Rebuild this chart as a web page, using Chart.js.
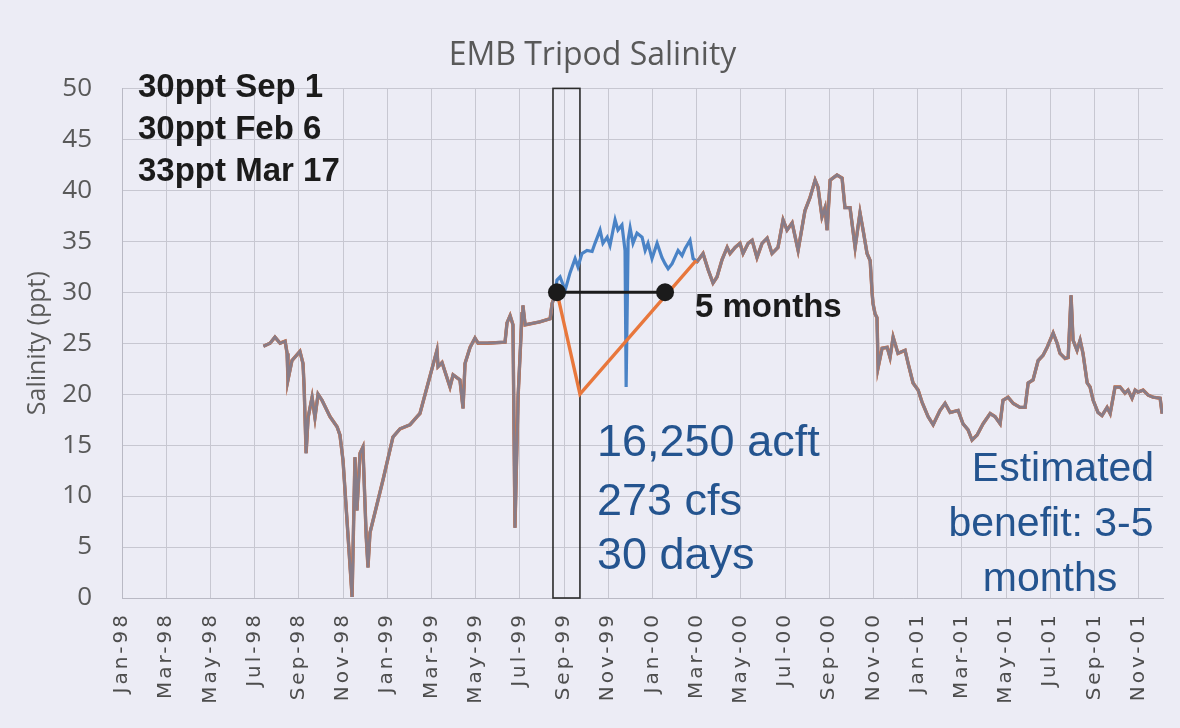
<!DOCTYPE html>
<html>
<head>
<meta charset="utf-8">
<title>EMB Tripod Salinity</title>
<script src="https://cdn.jsdelivr.net/npm/chart.js@4.4.1/dist/chart.umd.min.js"></script>
<style>
  body { margin: 0; background: #ececf5; }
  #wrap { width: 1180px; height: 728px; }
</style>
</head>
<body>
<div id="wrap"><canvas id="chartSalinity" width="1180" height="728"></canvas></div>
<script>
// x values are months counted from Jan 1 1998
const monthLabels = ['Jan-98','Mar-98','May-98','Jul-98','Sep-98','Nov-98','Jan-99','Mar-99','May-99','Jul-99',
  'Sep-99','Nov-99','Jan-00','Mar-00','May-00','Jul-00','Sep-00','Nov-00','Jan-01','Mar-01','May-01','Jul-01','Sep-01','Nov-01'];

// tripod salinity (ppt)
const obsMonth = [
  6.40, 6.70, 6.92, 7.15, 7.38, 7.47, 7.51, 7.69, 8.05, 8.19, 8.24, 8.33, 8.42, 8.60, 8.73, 8.87, 9.05, 9.41, 9.73, 9.86,
  10.00, 10.41, 10.54, 10.63, 10.77, 10.90, 11.00, 11.05, 11.13, 11.22, 11.81, 12.26, 12.58, 13.03, 13.35, 13.48,
  14.25, 14.30, 14.48, 14.84, 14.98, 15.29, 15.43, 15.52, 15.75, 15.97, 16.11, 16.52, 17.33, 17.42, 17.56, 17.69,
  17.78, 17.92, 18.10, 18.14, 18.24, 18.91, 19.37, 19.46, 19.59,
  19.68, 19.82, 20.05, 20.27, 20.50, 20.63, 20.81, 21.04, 21.27, 21.40, 21.63, 21.76, 21.95, 22.08, 22.31, 22.44,
  22.62, 22.76, 22.81, 22.90, 22.99, 23.12, 23.30, 23.53, 23.67, 23.80, 23.98, 24.21, 24.43, 24.57, 24.71, 24.89,
  25.16, 25.34, 25.48, 25.70, 25.84,
  26.02, 26.29, 26.52, 26.74, 26.92, 27.15, 27.38, 27.51, 27.74, 27.96, 28.10, 28.33, 28.51, 28.73, 28.96, 29.19,
  29.41, 29.68, 29.91, 30.09, 30.32, 30.59, 30.90, 31.13, 31.36, 31.49, 31.67, 31.81, 31.90, 32.04, 32.35, 32.58,
  32.71, 32.94, 33.17, 33.39, 33.53, 33.71, 33.85, 33.94, 33.98, 34.07, 34.16, 34.21, 34.39, 34.62, 34.75, 34.89,
  35.11, 35.43, 35.57, 35.79, 36.02, 36.20, 36.47, 36.70, 37.01, 37.24, 37.47, 37.83, 38.05, 38.28, 38.46, 38.69,
  38.96, 39.28, 39.50, 39.73, 39.86, 40.09, 40.32, 40.63, 40.86, 41.00, 41.22, 41.45, 41.67, 41.86, 42.13, 42.31,
  42.44, 42.67, 42.81, 42.94, 43.03, 43.21, 43.35, 43.48, 43.67, 43.80, 43.94, 44.16, 44.34, 44.57, 44.71, 44.93,
  45.16, 45.38, 45.52, 45.70, 45.84, 45.97, 46.20, 46.43, 46.65, 46.97, 47.06
];
const obsSal = [
  24.7, 25.0, 25.6, 25.0, 25.2, 24.0, 21.4, 23.3, 24.2, 23.0, 20.7, 14.2, 17.7, 19.7, 17.7, 20.0, 19.4, 17.8, 16.8, 16.0,
  13.5, 0.1, 13.8, 8.6, 14.2, 14.8, 8.9, 6.0, 3.0, 6.4, 11.6, 15.8, 16.6, 17.0, 17.8, 18.1,
  24.3, 22.7, 23.1, 20.7, 21.9, 21.4, 18.6, 23.0, 24.6, 25.5, 25.0, 25.0, 25.1, 27.0, 27.7, 26.8,
  6.9, 19.7, 27.9, 28.7, 26.8, 27.1, 27.4, 28.9, 29.7,
  31.2, 31.5, 30.2, 31.9, 33.3, 32.5, 33.8, 34.1, 34.0, 34.8, 36.1, 34.8, 35.4, 34.6, 37.1, 36.1,
  36.6, 34.1, 20.7, 35.1, 36.3, 34.8, 35.8, 35.4, 34.1, 34.8, 33.3, 34.8, 33.4, 32.8, 32.3, 32.8,
  34.1, 33.6, 34.3, 35.1, 33.3,
  33.0, 33.8, 32.2, 30.9, 31.5, 33.2, 34.4, 33.8, 34.4, 34.8, 33.8, 34.8, 35.1, 33.4, 34.8, 35.3,
  33.8, 34.4, 37.1, 36.1, 36.8, 34.1, 38.0, 39.3, 41.0, 40.3, 37.4, 38.3, 36.1, 41.0, 41.5, 41.2,
  38.3, 38.3, 34.4, 37.8, 36.1, 33.8, 33.1, 29.9, 28.9, 27.9, 27.5, 22.6, 24.5, 24.6, 23.6, 25.6,
  24.0, 24.3, 23.0, 21.1, 20.4, 19.2, 17.8, 17.0, 18.4, 19.1, 18.2, 18.4, 17.1, 16.5, 15.5, 16.0,
  17.1, 18.1, 17.8, 17.1, 19.4, 19.7, 19.1, 18.7, 18.7, 21.1, 21.4, 23.3, 23.8, 24.6, 26.0, 25.0,
  24.0, 23.5, 23.6, 29.7, 25.3, 24.3, 25.3, 24.0, 21.1, 20.7, 19.4, 18.2, 17.9, 18.7, 18.1, 20.7,
  20.7, 20.1, 20.4, 19.6, 20.4, 20.2, 20.4, 19.9, 19.7, 19.6, 18.1
];

// 30 day pulse scenario (orange) and 30 ppt crossing (black)
const scenMonth = [19.68, 20.72, 25.93];
const scenSal = [30, 20, 33];
const crossMonth = [19.68, 24.57];
const crossSal = [30, 30];
const pulseWindow = [19.50, 20.72];

const toXY = (xs, ys) => xs.map((x, i) => ({ x: x, y: ys[i] }));

// puntos dentro de la ventana del pulso solo van en azul
const obsPts = toXY(obsMonth, obsSal);
const antes = obsPts.filter(p => p.x <= 19.62);
const despues = obsPts.filter(p => p.x >= 25.9);
const grayPts = antes.concat([{ x: 22.5, y: null }], despues);
const orangePts = antes.concat(toXY(scenMonth, scenSal), despues);

const GRID = '#c7c7d1';

const notas = {
  id: 'notas',
  beforeDatasetsDraw(chart) {
    const { ctx, chartArea, scales } = chart;
    const x1 = scales.x.getPixelForValue(pulseWindow[0]);
    const x2 = scales.x.getPixelForValue(pulseWindow[1]);
    ctx.save();
    ctx.strokeStyle = '#2b2b2b';
    ctx.lineWidth = 1.6;
    ctx.strokeRect(x1, chartArea.top, x2 - x1, chartArea.bottom - chartArea.top);
    ctx.restore();
  },
  afterDatasetsDraw(chart) {
    const ctx = chart.ctx;
    ctx.save();
    ctx.textBaseline = 'middle';
    ctx.fillStyle = '#1b1b1b';
    ctx.font = 'bold 33px "Liberation Sans", Arial, sans-serif';
    ctx.textAlign = 'left';
    ctx.fillText('30ppt Sep 1', 138, 88);
    ctx.fillText('30ppt Feb 6', 138, 130);
    ctx.fillText('33ppt Mar 17', 138, 172);
    ctx.fillText('5 months', 695, 308);

    ctx.fillStyle = '#24548f';
    ctx.font = '45px "Liberation Sans", Arial, sans-serif';
    ctx.fillText('16,250 acft', 597, 444);
    ctx.fillText('273 cfs', 597, 503);
    ctx.fillText('30 days', 597, 557);

    ctx.textAlign = 'center';
    ctx.font = '41px "Liberation Sans", Arial, sans-serif';
    ctx.fillText('Estimated', 1063, 470);
    ctx.fillText('benefit: 3-5', 1051, 525);
    ctx.fillText('months', 1050, 580);
    ctx.restore();
    // las etiquetas del eje x se dibujan despues, con espaciado
    ctx.letterSpacing = '3px';
  },
  afterDraw(chart) {
    chart.ctx.letterSpacing = '0px';
  }
};

const ctx = document.getElementById('chartSalinity').getContext('2d');
new Chart(ctx, {
  type: 'line',
  data: {
    datasets: [
      { data: toXY(crossMonth, crossSal), borderColor: '#1b1b1b', backgroundColor: '#1b1b1b', borderWidth: 3,
        pointRadius: 9, pointBorderWidth: 0, order: 0 },
      { data: grayPts, borderColor: '#877c88', borderWidth: 2.8, pointRadius: 0, spanGaps: false, order: 1 },
      { data: orangePts, borderColor: '#e8773c', borderWidth: 3.4, pointRadius: 0, order: 2 },
      { data: obsPts, borderColor: '#4a83c6', borderWidth: 3.2, pointRadius: 0, order: 3 }
    ]
  },
  options: {
    responsive: false,
    animation: false,
    events: [],
    layout: { padding: { left: 22, right: 17, top: 0, bottom: 0 } },
    plugins: {
      legend: { display: false },
      tooltip: { enabled: false },
      title: {
        display: true,
        text: 'EMB Tripod Salinity',
        color: '#595959',
        font: { family: '"Open Sans", sans-serif', size: 32, weight: 'normal', lineHeight: 1.2 },
        padding: { top: 37, bottom: 13 }
      }
    },
    scales: {
      x: {
        type: 'linear',
        min: 0,
        max: 47.1,
        afterBuildTicks: scale => { scale.ticks = monthLabels.map((l, i) => ({ value: i * 2 })); },
        afterFit: scale => { scale.height = 130; },
        grid: { color: GRID, drawTicks: false, lineWidth: 1 },
        border: { color: '#b9b9c4' },
        ticks: {
          z: 1,
          autoSkip: false,
          minRotation: 90,
          maxRotation: 90,
          padding: 14,
          color: '#4d4d4d',
          font: { family: '"DejaVu Sans", sans-serif', size: 20 },
          callback: v => monthLabels[Math.round(v / 2)]
        }
      },
      y: {
        min: 0,
        max: 50,
        afterFit: scale => { scale.width = 100; },
        grid: { color: GRID, drawTicks: false, lineWidth: 1 },
        border: { color: '#b9b9c4' },
        ticks: {
          stepSize: 5,
          padding: 30,
          color: '#595959',
          font: { family: '"Open Sans", sans-serif', size: 26 }
        },
        title: {
          display: true,
          text: 'Salinity (ppt)',
          color: '#595959',
          font: { family: '"Open Sans", sans-serif', size: 25 },
          padding: { top: 1, bottom: 0 }
        }
      }
    }
  },
  plugins: [notas]
});
</script>
</body>
</html>
